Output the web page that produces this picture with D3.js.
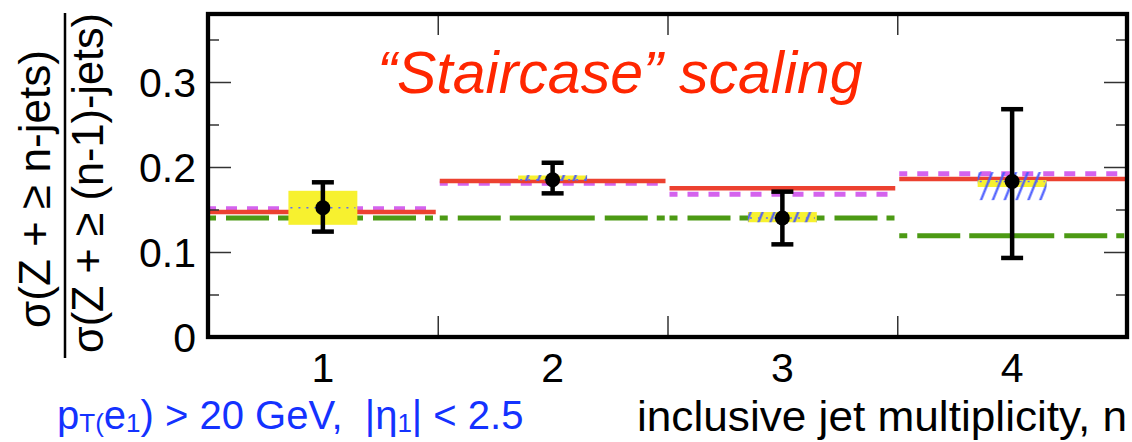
<!DOCTYPE html>
<html><head><meta charset="utf-8">
<script src="https://cdn.jsdelivr.net/npm/d3@7"></script>
<style>html,body{margin:0;padding:0;background:#fff;overflow:hidden}</style>
</head><body>
<svg id="chart" width="1132" height="442"></svg>
<script>
// ---- data ----
const categories = [1, 2, 3, 4];
const yMajorTicks = [0, 0.1, 0.2, 0.3];
const yMinorTicks = [0.05, 0.15, 0.25, 0.35];
const binEdges = [1.5, 2.5, 3.5];
const dataValues = [0.152, 0.185, 0.140, 0.183];
const statLow = [0.124, 0.169, 0.109, 0.093];
const statHigh = [0.182, 0.205, 0.171, 0.268];
const yellowLow = [0.132, 0.185, 0.135, 0.1765];
const yellowHigh = [0.172, 0.190, 0.147, 0.1847];
const hatchLow = [0.152, 0.1835, 0.135, 0.161];
const hatchHigh = [0.152, 0.1906, 0.147, 0.194];
const redTheory = [0.147, 0.1835, 0.175, 0.186];
const magentaTheory = [0.151, 0.181, 0.168, 0.192];
const greenTheory = [0.140, 0.140, 0.140, 0.119];
const annotation = "\u201CStaircase\u201D scaling";
const xTitle = "inclusive jet multiplicity, n";
const yNumerator = "\u03C3(Z + \u2265 n-jets)";
const yDenominator = "\u03C3(Z + \u2265 (n-1)-jets)";

// ---- setup ----
const svg = d3.select("#chart");
const FONT = "'Liberation Sans', Arial, Helvetica, sans-serif";
const x = d3.scaleLinear().domain([0.5, 4.5]).range([208, 1127]);
const y = d3.scaleLinear().domain([0, 0.38]).range([337, 14]);
const X0 = x.range()[0], X1 = x.range()[1], Y0 = y.range()[0], Y1 = y.range()[1];

const defs = svg.append("defs");
defs.append("clipPath").attr("id", "plotclip").append("rect")
  .attr("x", X0).attr("y", Y1).attr("width", X1 - X0).attr("height", Y0 - Y1);
const pat = defs.append("pattern").attr("id", "hatch")
  .attr("patternUnits", "userSpaceOnUse").attr("width", 11).attr("height", 10)
  .attr("patternTransform", "rotate(22)");
pat.append("line").attr("x1", 5.5).attr("x2", 5.5).attr("y1", -1).attr("y2", 11)
  .attr("stroke", "#4658ff").attr("stroke-width", 2.2);

const plot = svg.append("g").attr("clip-path", "url(#plotclip)");

// theory lines
function segs(vals, color, width, dash, offset) {
  plot.append("g").selectAll("line").data(categories).join("line")
    .attr("x1", (c) => c === categories[0] ? X0 : x(c - 0.5) + 2)
    .attr("x2", (c) => c === categories[categories.length - 1] ? X1 : x(c + 0.5) - 2)
    .attr("y1", (c, i) => y(vals[i])).attr("y2", (c, i) => y(vals[i]))
    .attr("stroke", color).attr("stroke-width", width)
    .attr("stroke-dasharray", dash).attr("stroke-dashoffset", offset || 0);
}
segs(magentaTheory, "#d463ee", 5, "11,10", 3);
segs(greenTheory, "#4c9a14", 5, "8,10,43,9,85,10,43,9,8,10", 0);
segs(redTheory, "#ec4130", 4.5, null, 0);

const hw = 0.15;
// yellow boxes
plot.append("g").selectAll("rect").data(categories).join("rect")
  .attr("x", (c) => x(c - hw)).attr("width", (c) => x(c + hw) - x(c - hw))
  .attr("y", (c, i) => y(yellowHigh[i]))
  .attr("height", (c, i) => y(yellowLow[i]) - y(yellowHigh[i]))
  .attr("fill", "#f7f12f");
// hatched bands
plot.append("g").selectAll("rect").data(categories).join("rect")
  .attr("x", (c) => x(c - hw)).attr("width", (c) => x(c + hw) - x(c - hw))
  .attr("y", (c, i) => y(hatchHigh[i]))
  .attr("height", (c, i) => y(hatchLow[i]) - y(hatchHigh[i]))
  .attr("fill", "url(#hatch)");
// dotted central line
plot.append("g").selectAll("line").data(categories).join("line")
  .attr("x1", (c) => x(c - hw) + 2).attr("x2", (c) => x(c + hw) - 2)
  .attr("y1", (c, i) => y(dataValues[i])).attr("y2", (c, i) => y(dataValues[i]))
  .attr("stroke", "#5b6cff").attr("stroke-width", 1.6).attr("stroke-dasharray", "2,6");

// error bars
const eb = plot.append("g");
eb.selectAll("line.v").data(categories).join("line").attr("class", "v")
  .attr("x1", (c) => x(c)).attr("x2", (c) => x(c))
  .attr("y1", (c, i) => y(statLow[i])).attr("y2", (c, i) => y(statHigh[i]))
  .attr("stroke", "#000").attr("stroke-width", 4.5);
[statLow, statHigh].forEach((arr) => {
  eb.append("g").selectAll("line").data(categories).join("line")
    .attr("x1", (c) => x(c) - 11).attr("x2", (c) => x(c) + 11)
    .attr("y1", (c, i) => y(arr[i])).attr("y2", (c, i) => y(arr[i]))
    .attr("stroke", "#000").attr("stroke-width", 4.5);
});
eb.selectAll("circle").data(categories).join("circle")
  .attr("cx", (c) => x(c)).attr("cy", (c, i) => y(dataValues[i])).attr("r", 7.5)
  .attr("fill", "#000");

// axes ticks
function styleAxis(g) {
  g.select(".domain").remove();
  g.selectAll(".tick line").attr("stroke", "#333").attr("stroke-width", 1.5);
  g.selectAll("text").attr("font-family", FONT).attr("fill", "#000");
}
svg.append("g").attr("transform", `translate(${X0},0)`)
  .call(d3.axisLeft(y).tickValues(yMajorTicks).tickSizeInner(-23).tickSizeOuter(0)
    .tickPadding(12).tickFormat((d) => d === 0 ? "0" : d3.format(".1f")(d)))
  .call(styleAxis)
  .call((g) => g.selectAll("text").attr("font-size", 41).attr("dy", "0.36em"));
svg.append("g").attr("transform", `translate(${X0},0)`)
  .call(d3.axisLeft(y).tickValues(yMinorTicks).tickSizeInner(-11).tickSizeOuter(0).tickFormat(""))
  .call(styleAxis);
svg.append("g").attr("transform", `translate(${X1},0)`)
  .call(d3.axisRight(y).tickValues(yMajorTicks).tickSizeInner(-23).tickSizeOuter(0).tickFormat(""))
  .call(styleAxis);
svg.append("g").attr("transform", `translate(${X1},0)`)
  .call(d3.axisRight(y).tickValues(yMinorTicks).tickSizeInner(-11).tickSizeOuter(0).tickFormat(""))
  .call(styleAxis);
svg.append("g").attr("transform", `translate(0,${Y0})`)
  .call(d3.axisBottom(x).tickValues(binEdges).tickSizeInner(-21).tickSizeOuter(0).tickFormat(""))
  .call(styleAxis);
svg.append("g").attr("transform", `translate(0,${Y1})`)
  .call(d3.axisTop(x).tickValues(binEdges).tickSizeInner(-21).tickSizeOuter(0).tickFormat(""))
  .call(styleAxis);
// category labels
svg.append("g").selectAll("text").data(categories).join("text")
  .attr("x", (c) => x(c)).attr("y", 382).attr("text-anchor", "middle")
  .attr("font-family", FONT).attr("font-size", 41).text((c) => c);

// frame
svg.append("rect").attr("x", X0).attr("y", Y1).attr("width", X1 - X0).attr("height", Y0 - Y1)
  .attr("fill", "none").attr("stroke", "#000").attr("stroke-width", 4.3);

// annotation
svg.append("text").attr("x", 620).attr("y", 93).attr("text-anchor", "middle")
  .attr("font-family", FONT).attr("font-style", "italic").attr("font-size", 59)
  .attr("fill", "#ff2600").text(annotation);

// x title
svg.append("text").attr("x", 1127).attr("y", 431).attr("text-anchor", "end")
  .attr("font-family", FONT).attr("font-size", 42).attr("fill", "#000")
  .attr("textLength", 490).attr("lengthAdjust", "spacingAndGlyphs").text(xTitle);

// y title (fraction)
svg.append("text").attr("transform", "translate(50,189) rotate(-90)")
  .attr("text-anchor", "middle").attr("font-family", FONT).attr("font-size", 45)
  .attr("textLength", 278).attr("lengthAdjust", "spacingAndGlyphs").text(yNumerator);
svg.append("line").attr("x1", 65).attr("x2", 65).attr("y1", 13).attr("y2", 358)
  .attr("stroke", "#000").attr("stroke-width", 2.5);
svg.append("text").attr("transform", "translate(103,183) rotate(-90)")
  .attr("text-anchor", "middle").attr("font-family", FONT).attr("font-size", 45)
  .attr("textLength", 340).attr("lengthAdjust", "spacingAndGlyphs").text(yDenominator);

// cuts note
const note = svg.append("text").attr("x", 57).attr("y", 429)
  .attr("font-family", FONT).attr("font-size", 40).attr("fill", "#1432ff")
  .attr("xml:space", "preserve").style("white-space", "pre");
note.append("tspan").text("p");
note.append("tspan").attr("font-size", 26).attr("dy", 3).text("T(");
note.append("tspan").attr("dy", -3).text("e");
note.append("tspan").attr("font-size", 26).attr("dy", 3).text("1");
note.append("tspan").attr("dy", -3).text(") > 20 GeV,  |\u03B7");
note.append("tspan").attr("font-size", 26).attr("dy", 3).text("1");
note.append("tspan").attr("dy", -3).text("| < 2.5");
</script>
</body></html>
